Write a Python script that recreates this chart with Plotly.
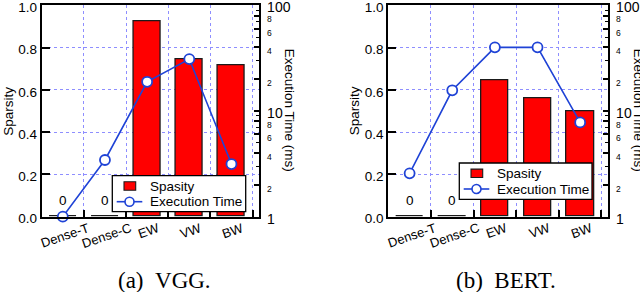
import math
import plotly.graph_objects as go

# ---------------- data ----------------
categories = ["Dense-T", "Dense-C", "EW", "VW", "BW"]
vgg_sparsity = [0, 0, 0.922, 0.746, 0.714]
vgg_time = [1.0, 3.44, 18.9, 31.0, 3.15]
bert_sparsity = [0, 0, 0.647, 0.558, 0.497]
bert_time = [2.57, 15.7, 40.0, 40.0, 7.8]
panel_titles = ["(a)\u00a0\u00a0VGG.", "(b)\u00a0\u00a0BERT."]
sparsity_ticks = [0, 0.2, 0.4, 0.6, 0.8, 1.0]
time_ticks = [1, 2, 4, 6, 8, 10, 20, 40, 60, 80, 100]
time_minor = [3, 5, 7, 9, 30, 50, 70, 90]
bar_name = "Spasity"
line_name = "Execution Time"
left_title = "Sparsity"
right_title = "Execution Time (ms)"

# ---------------- style ----------------
W, H = 640, 292
RED = "#ff0000"
BLUE = "#1f43d6"
GRID = "#8e8eff"
EDGE = "#1a1a1a"
FONT = "Liberation Sans"


def px_x(p):
    return p / W


def px_y(p):
    return 1 - p / H


def time_label(t):
    lg = math.log10(t)
    if abs(lg - round(lg)) < 1e-9:
        return str(t)
    lead = int(round(t / 10 ** math.floor(lg)))
    return "<span style='font-size:8.5px'>%d</span>" % lead


time_text = [time_label(t) for t in time_ticks]
xs = list(range(len(categories)))
bounds = [i + 0.5 for i in xs]

y_top, y_bot = 5.3, 216.7
ydom = [px_y(y_bot), px_y(y_top)]

panels = [
    dict(sp=vgg_sparsity, t=vgg_time, xa="x", ya="y", yb="y2",
         left=41.7, right=259.3, box=(112.3, 175.7, 245.7, 211.7), title_x=164),
    dict(sp=bert_sparsity, t=bert_time, xa="x2", ya="y3", yb="y4",
         left=388.3, right=608.3, box=(459.3, 163.0, 592.0, 199.3), title_x=506),
]

fig = go.Figure()
annotations = []
shapes = []
layout = {}


def rect(x0, y0, x1, y1, **kw):
    return dict(type="rect", xref="paper", yref="paper", layer="above",
                x0=px_x(x0), x1=px_x(x1), y0=px_y(y1), y1=px_y(y0), **kw)


for k, p in enumerate(panels):
    fig.add_trace(go.Bar(
        x=xs, y=p["sp"], width=0.64, name=bar_name, showlegend=False,
        marker=dict(color=RED, line=dict(color=EDGE, width=1.3)),
        xaxis=p["xa"], yaxis=p["ya"],
    ))
    fig.add_trace(go.Scatter(
        x=xs, y=p["t"], mode="lines+markers", name=line_name, showlegend=False,
        line=dict(color=BLUE, width=1.6),
        marker=dict(symbol="circle", size=10, color="white",
                    line=dict(color=BLUE, width=1.8)),
        xaxis=p["xa"], yaxis=p["yb"], cliponaxis=False,
    ))

    xname = "xaxis" if p["xa"] == "x" else "xaxis" + p["xa"][1:]
    yname = "yaxis" if p["ya"] == "y" else "yaxis" + p["ya"][1:]
    y2name = "yaxis" + p["yb"][1:]

    layout[xname] = dict(
        domain=[px_x(p["left"]), px_x(p["right"])], range=[-0.5, 4.66],
        anchor=p["ya"], tickmode="array", tickvals=bounds, showticklabels=False,
        ticks="inside", ticklen=7, tickwidth=1.5, tickcolor="black",
        showgrid=True, gridcolor=GRID, griddash="dot", gridwidth=1,
        showline=True, linecolor="black", linewidth=2, mirror=True,
        zeroline=False, fixedrange=True, automargin=False,
    )
    layout[yname] = dict(
        domain=ydom, range=[0, 1], anchor=p["xa"], tickmode="array",
        tickvals=sparsity_ticks, tickformat=".1f",
        ticks="inside", ticklen=8, tickwidth=1.5, tickcolor="black",
        showgrid=True, gridcolor=GRID, griddash="dot", gridwidth=1,
        showline=True, linecolor="black", linewidth=2, mirror=True,
        zeroline=False, ticklabeloverflow="allow", automargin=False,
        ticklabelshift=2,
        tickfont=dict(size=13.5, family=FONT, color="black"),
    )
    layout[y2name] = dict(
        overlaying=p["ya"], side="right", anchor=p["xa"], type="log",
        range=[0, 2], tickmode="array", tickvals=time_ticks, ticktext=time_text,
        ticks="inside", ticklen=5, tickwidth=1.5, tickcolor="black",
        minor=dict(tickmode="array", tickvals=time_minor, ticks="inside",
                   ticklen=3, tickwidth=1.2, tickcolor="black", showgrid=False),
        showgrid=False, showline=True, linecolor="black", linewidth=2,
        zeroline=False, ticklabeloverflow="allow", ticklabelstandoff=3,
        automargin=False, ticklabelshift=2,
        tickfont=dict(size=14, family=FONT, color="black"),
    )

    # ---- legend box (drawn from the trace styles) ----
    bx0, by0, bx1, by1 = p["box"]
    shapes.append(rect(bx0, by0, bx1, by1, fillcolor="white",
                       line=dict(color="black", width=1.3)))
    r1 = by0 + 10.3
    r2 = by0 + 26.0
    shapes.append(rect(bx0 + 11.7, r1 - 4.2, bx0 + 23.4, r1 + 4.2, fillcolor=RED,
                       line=dict(color=EDGE, width=1.1)))
    shapes.append(dict(type="line", xref="paper", yref="paper", layer="above",
                       x0=px_x(bx0 + 4.4), x1=px_x(bx0 + 30.0),
                       y0=px_y(r2), y1=px_y(r2), line=dict(color=BLUE, width=1.6)))
    shapes.append(dict(type="circle", xref="paper", yref="paper", layer="above",
                       x0=px_x(bx0 + 17.2 - 4.5), x1=px_x(bx0 + 17.2 + 4.5),
                       y0=px_y(r2 + 4.5), y1=px_y(r2 - 4.5), fillcolor="white",
                       line=dict(color=BLUE, width=1.6)))
    for txt, ry in ((bar_name, r1), (line_name, r2)):
        annotations.append(dict(
            text=txt, x=px_x(bx0 + 35.5), xref="paper", y=px_y(ry), yref="paper",
            xanchor="left", yanchor="middle", showarrow=False,
            font=dict(size=13.5, family=FONT, color="black"),
        ))

    # category labels
    for i, c in enumerate(categories):
        annotations.append(dict(
            text=c, x=i, xref=p["xa"], y=ydom[0], yref="paper",
            xanchor="center", yanchor="top", textangle=-19, yshift=-1, xshift=2,
            showarrow=False, font=dict(size=13, family=FONT, color="black"),
        ))
    # zero-value labels
    for i, v in enumerate(p["sp"]):
        if v == 0:
            annotations.append(dict(
                text=str(v), x=i, xref=p["xa"], y=v, yref=p["ya"],
                xanchor="center", yanchor="bottom", yshift=7, showarrow=False,
                font=dict(size=13.5, family=FONT, color="black"),
            ))
    # axis titles
    annotations.append(dict(
        text=left_title, x=px_x(p["left"] - 34), xref="paper", y=px_y(111), yref="paper",
        xanchor="center", yanchor="middle", textangle=-90, showarrow=False,
        font=dict(size=13.5, family=FONT, color="black"),
    ))
    annotations.append(dict(
        text=right_title, x=px_x(p["right"] + 30), xref="paper", y=px_y(110), yref="paper",
        xanchor="center", yanchor="middle", textangle=90, showarrow=False,
        font=dict(size=13.5, family=FONT, color="black"),
    ))
    annotations.append(dict(
        text=panel_titles[k], x=px_x(p["title_x"]), xref="paper", y=px_y(280), yref="paper",
        xanchor="center", yanchor="middle", showarrow=False,
        font=dict(size=23, family="Liberation Serif", color="black"),
    ))

fig.update_layout(
    width=W, height=H, margin=dict(l=0, r=0, t=0, b=0, autoexpand=False),
    paper_bgcolor="white", plot_bgcolor="white",
    font=dict(family=FONT, color="black"),
    showlegend=False, annotations=annotations, shapes=shapes, bargap=0,
    **layout,
)

fig.write_html(
    "out.html",
    config={"displayModeBar": False},
    post_script="document.body.style.margin='0';document.body.style.overflow='hidden';",
)
